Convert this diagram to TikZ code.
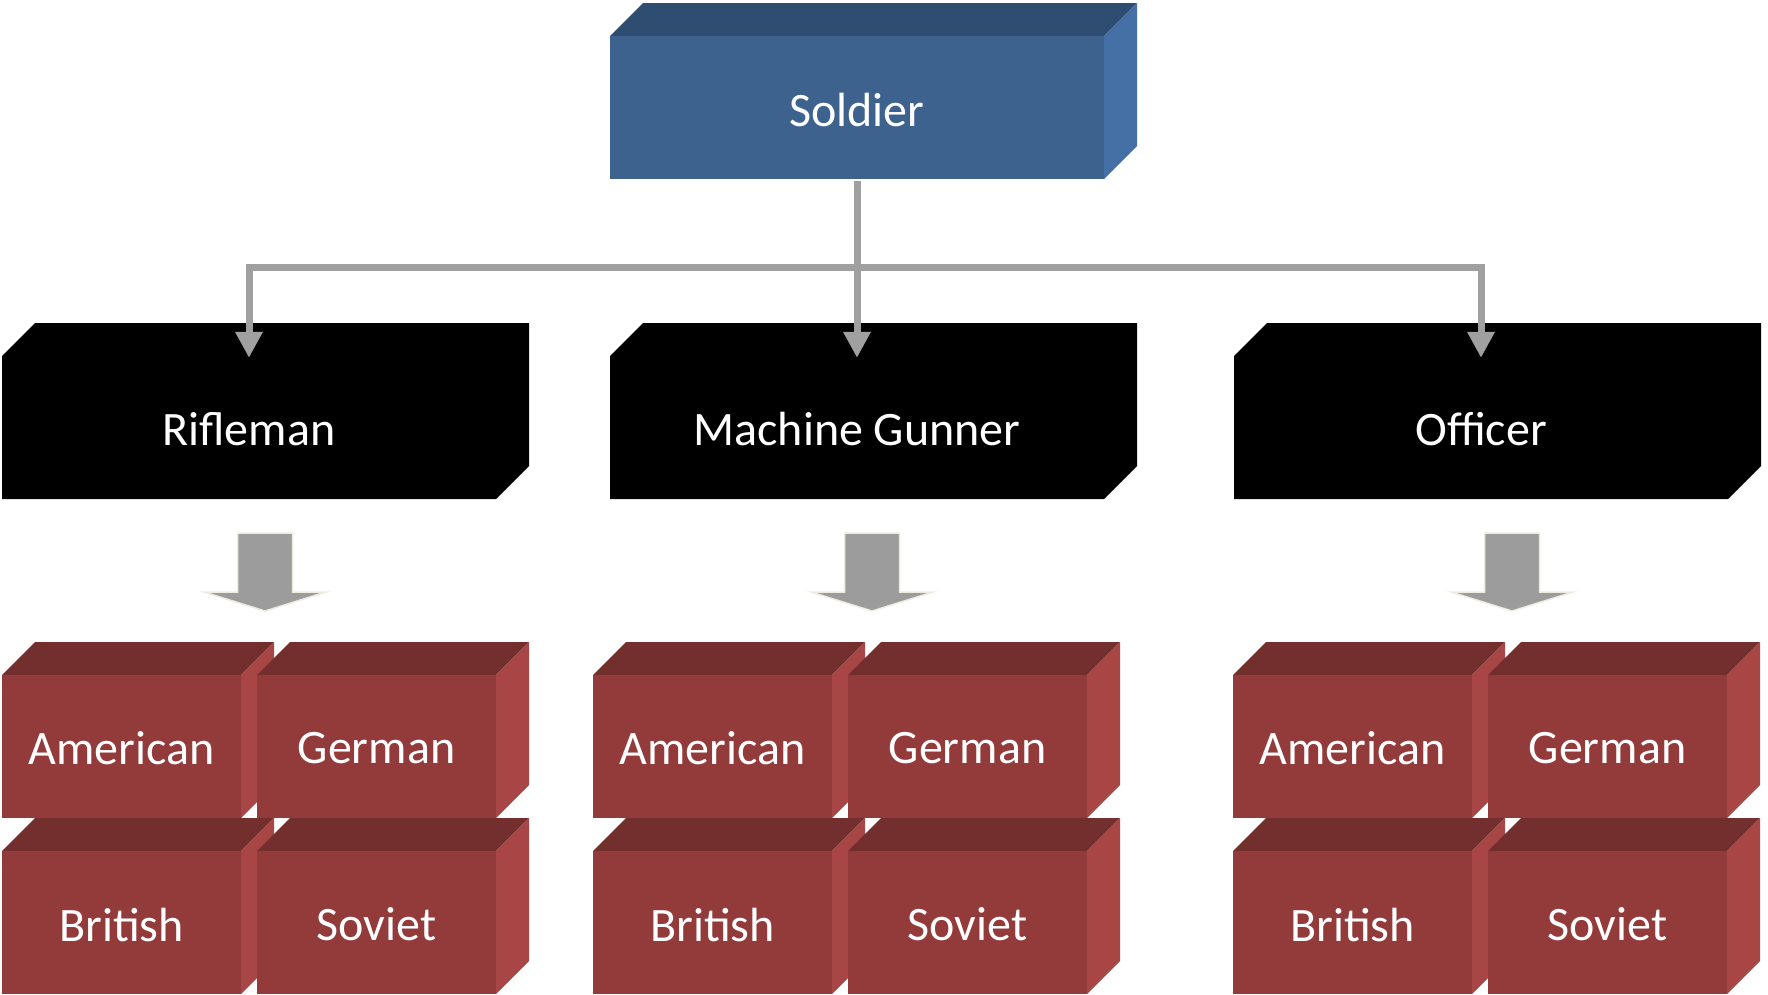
\documentclass[tikz,border=0pt]{standalone}
\usepackage{fontspec}
\setmainfont{Carlito}
\usetikzlibrary{arrows.meta}

\definecolor{bluefront}{HTML}{3D628E}
\definecolor{bluetop}{HTML}{2E4D71}
\definecolor{blueside}{HTML}{4470A6}
\definecolor{redfront}{HTML}{933B3B}
\definecolor{redtop}{HTML}{732E2E}
\definecolor{redside}{HTML}{A84545}
\definecolor{conngray}{HTML}{A0A0A0}
\definecolor{blockgray}{HTML}{9C9C9C}
\definecolor{blockedge}{HTML}{EEECE1}

\tikzset{
  boxlabel/.style={text=white, font=\fontsize{48}{58}\selectfont, inner sep=0pt, anchor=center},
  conn/.style={draw=conngray, line width=7pt, line join=miter},
  tip/.style={-{Triangle[length=26pt,width=26pt]}},
  blockarrow/.style={fill=blockgray, draw=blockedge, line width=1.5pt, line join=miter},
}

% \prism{name}{front left x}{front top y}{front width}{front height}{palette}{text}
% draws a box with a top and a right face of depth 33, and a node over the front face
\newcommand\prism[7]{%
  \fill[#6top] (#2,#3) -- ++(33,-33) -- ++(#4,0) -- ++(-33,33) -- cycle;
  \fill[#6side] ({#2+#4},#3) -- ++(33,-33) -- ++(0,#5) -- ++(-33,33) -- cycle;
  \fill[#6front] (#2,#3) rectangle ++(#4,#5);
  \node[boxlabel, minimum width=#4pt, minimum height=#5pt] (#1) at ({#2+#4/2},{#3+#5/2+2}) {#7};
}

% \solidbox{name}{front left x}{front top y}{front width}{front height}{text}
% the same box outline, filled black in one piece
\newcommand\solidbox[6]{%
  \fill[black] (#2,#3) -- ++(33,-33) -- ++(#4,0) -- ++(0,#5) -- ++(-33,33) -- ++(-#4,0) -- cycle;
  \node[boxlabel, minimum width=#4pt, minimum height=#5pt] (#1) at ({#2+#4/2},{#3+#5/2+2}) {#6};
}

% \blockdown{centre x}: wide block arrow pointing down to a group of cubes
\newcommand\blockdown[1]{%
  \path[blockarrow] ({#1-27.5},533) -- ({#1+27.5},533) -- ({#1+27.5},592)
    -- ({#1+61},592) -- (#1,611) -- ({#1-61},592) -- ({#1-27.5},592) -- cycle;
}

% \nations{prefix}{front left x}: the 2x2 block of nation cubes
\newcommand\nations[2]{%
  \prism{#1am}{#2}{675}{239}{143}{red}{American}
  \prism{#1ge}{#2+255}{675}{239}{143}{red}{German}
  \prism{#1br}{#2}{851}{239}{143}{red}{British}
  \prism{#1so}{#2+255}{851}{239}{143}{red}{Soviet}
}

\begin{document}
\begin{tikzpicture}[x=1pt, y=-1pt]
  \useasboundingbox (0,0) rectangle (1768,994);
  \clip (0,0) rectangle (1768,994);
  \fill[white] (0,0) rectangle (1768,994);

  % root
  \prism{soldier}{610}{36}{494}{143}{blue}{Soldier}

  % roles
  \solidbox{rifleman}{2}{356}{494}{143}{Rifleman}
  \solidbox{gunner}{610}{356}{494}{143}{Machine Gunner}
  \solidbox{officer}{1234}{356}{494}{143}{Officer}

  % hierarchy connectors
  \coordinate (bus) at (soldier.south |- 0,267);
  \draw[conn, {Triangle[length=26pt,width=26pt]}-{Triangle[length=26pt,width=26pt]}]
    (rifleman.north) |- (bus) -| (officer.north);
  \draw[conn, tip] (soldier.south) -- (gunner.north);

  % block arrows
  \blockdown{265}
  \blockdown{872}
  \blockdown{1512}

  % nation cubes under each role
  \nations{r}{2}
  \nations{g}{593}
  \nations{o}{1233}
\end{tikzpicture}
\end{document}
